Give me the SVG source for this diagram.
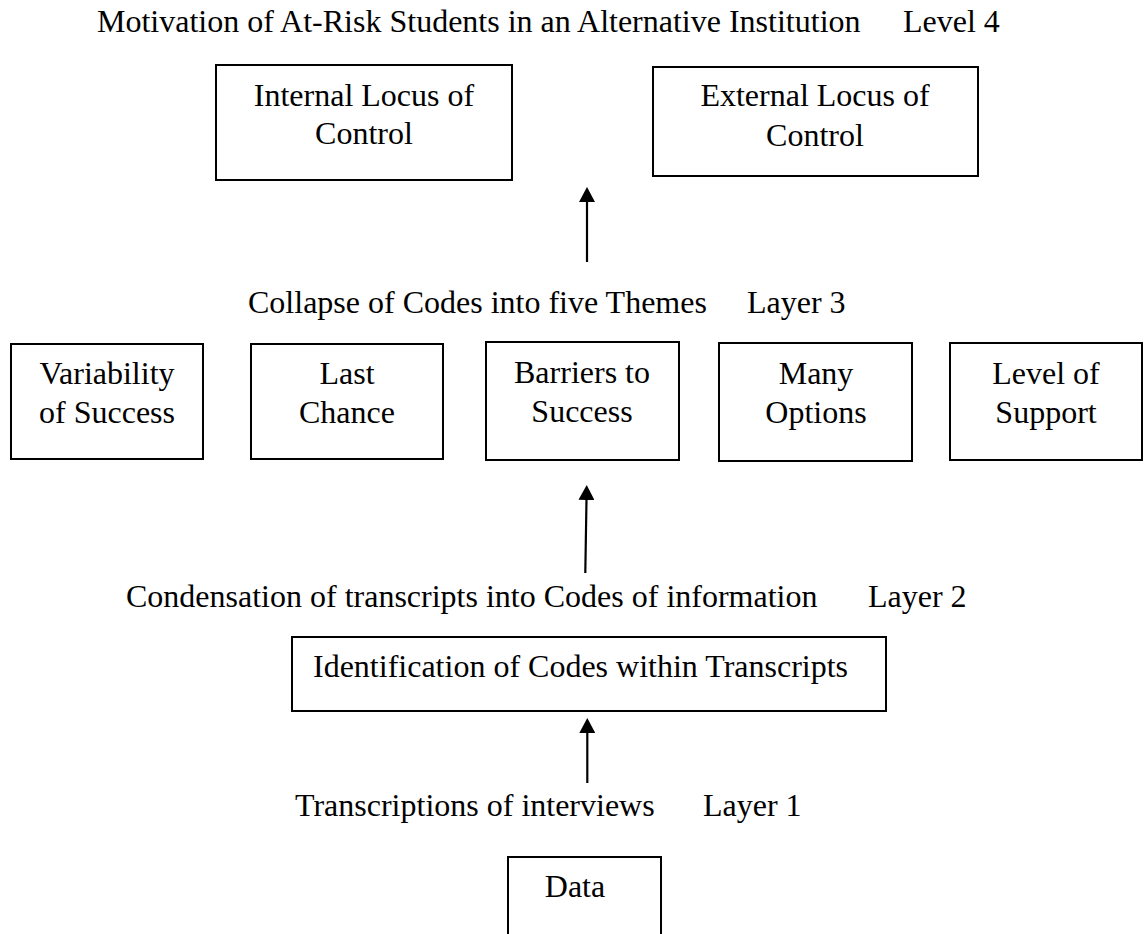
<svg xmlns="http://www.w3.org/2000/svg" width="1144" height="934" viewBox="0 0 1144 934">
<style>
text{font-family:"Liberation Serif","Times New Roman",serif;font-size:32px;fill:#000}
.c{text-anchor:middle}
.box{fill:#fff;stroke:#000;stroke-width:2}
.conn{stroke:#000;stroke-width:2.2;fill:none}
</style>
<defs>
<marker id="ah" markerUnits="userSpaceOnUse" markerWidth="16" markerHeight="16" refX="7" refY="8" orient="auto">
<path d="M0,0 L15,8 L0,16 Z" fill="#000"/>
</marker>
</defs>
<rect width="1144" height="934" fill="#fff"/>
<g id="labels">
<text x="97" y="32">Motivation of At-Risk Students in an Alternative Institution</text>
<text x="903" y="32">Level 4</text>
<text x="248" y="313">Collapse of Codes into five Themes</text>
<text x="747" y="313">Layer 3</text>
<text x="126" y="607">Condensation of transcripts into Codes of information</text>
<text x="868" y="607">Layer 2</text>
<text x="295" y="816">Transcriptions of interviews</text>
<text x="703" y="816">Layer 1</text>
</g>
<g id="node-internal">
<rect class="box" x="216" y="65" width="296" height="115"/>
<text class="c" x="364" y="106">Internal Locus of</text>
<text class="c" x="364" y="144">Control</text>
</g>
<g id="node-external">
<rect class="box" x="653" y="67" width="325" height="109"/>
<text class="c" x="815" y="106">External Locus of</text>
<text class="c" x="815" y="146">Control</text>
</g>
<g id="node-variability">
<rect class="box" x="11" y="344" width="192" height="115"/>
<text class="c" x="107" y="384">Variability</text>
<text class="c" x="107" y="423">of Success</text>
</g>
<g id="node-lastchance">
<rect class="box" x="251" y="344" width="192" height="115"/>
<text class="c" x="347" y="384">Last</text>
<text class="c" x="347" y="423">Chance</text>
</g>
<g id="node-barriers">
<rect class="box" x="486" y="342" width="193" height="118"/>
<text class="c" x="582" y="383">Barriers to</text>
<text class="c" x="582" y="422">Success</text>
</g>
<g id="node-options">
<rect class="box" x="719" y="343" width="193" height="118"/>
<text class="c" x="816" y="384">Many</text>
<text class="c" x="816" y="423">Options</text>
</g>
<g id="node-support">
<rect class="box" x="950" y="343" width="192" height="117"/>
<text class="c" x="1046" y="384">Level of</text>
<text class="c" x="1046" y="423">Support</text>
</g>
<g id="node-identification">
<rect class="box" x="292" y="637" width="594" height="74"/>
<text x="313" y="677">Identification of Codes within Transcripts</text>
</g>
<g id="node-data">
<rect class="box" x="508" y="857" width="153" height="100"/>
<text class="c" x="575" y="897">Data</text>
</g>
<g id="connectors">
<line class="conn" x1="587" y1="262" x2="587" y2="195" marker-end="url(#ah)"/>
<line class="conn" x1="585.3" y1="573" x2="586.6" y2="493" marker-end="url(#ah)"/>
<line class="conn" x1="587.3" y1="783" x2="587.3" y2="726" marker-end="url(#ah)"/>
</g>
</svg>
